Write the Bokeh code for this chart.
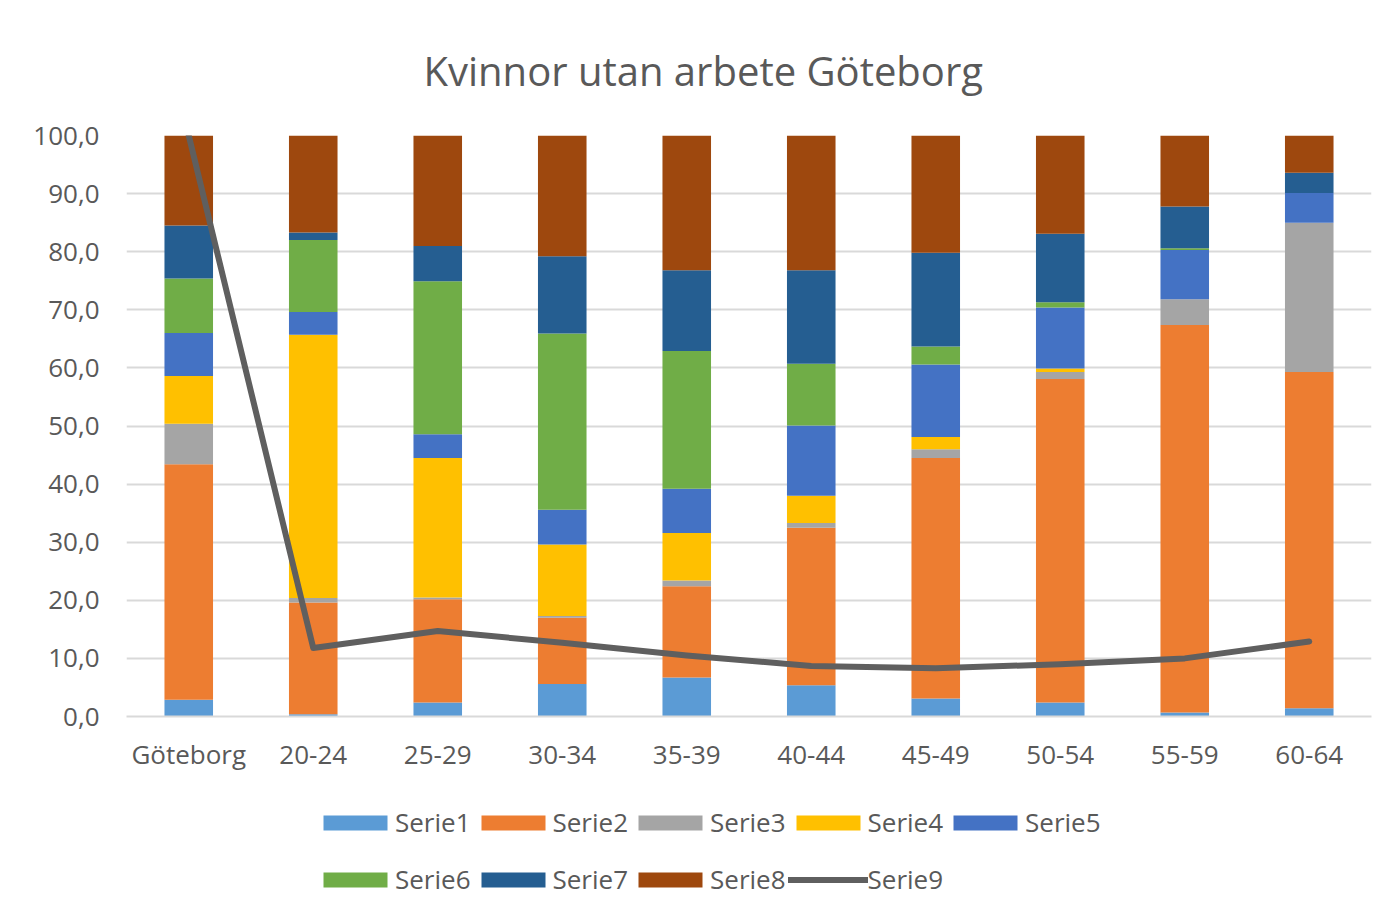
from bokeh.plotting import figure
from bokeh.layouts import column
from bokeh.models import (ColumnDataSource, FactorRange, Legend, LegendItem,
                          CustomJSTickFormatter, FixedTicker, Range1d)
from bokeh.embed import file_html
from bokeh.resources import INLINE

categories = ["Göteborg", "20-24", "25-29", "30-34", "35-39", "40-44", "45-49", "50-54", "55-59", "60-64"]
serie1 = [2.9, 0.4, 2.4, 5.6, 6.7, 5.4, 3.1, 2.4, 0.7, 1.4]
serie2 = [40.5, 19.2, 17.8, 11.4, 15.7, 27.1, 41.4, 55.7, 66.7, 57.9]
serie3 = [7.0, 0.8, 0.3, 0.3, 1.0, 0.8, 1.5, 1.2, 4.4, 25.7]
serie4 = [8.2, 45.3, 24.0, 12.3, 8.2, 4.7, 2.1, 0.6, 0.0, 0.0]
serie5 = [7.4, 3.9, 4.1, 6.0, 7.6, 12.1, 12.5, 10.5, 8.5, 5.1]
serie6 = [9.4, 12.4, 26.3, 30.3, 23.7, 10.6, 3.1, 0.9, 0.3, 0.0]
serie7 = [9.1, 1.3, 6.1, 13.3, 13.9, 16.1, 16.1, 11.8, 7.2, 3.5]
serie8 = [15.5, 16.7, 19.0, 20.8, 23.2, 23.2, 20.2, 16.9, 12.2, 6.4]
serie9 = [100.0, 11.8, 14.7, 12.7, 10.5, 8.7, 8.3, 9.0, 10.0, 12.9]
y_ticks = [0, 10, 20, 30, 40, 50, 60, 70, 80, 90, 100]

names = ["Serie1", "Serie2", "Serie3", "Serie4", "Serie5", "Serie6", "Serie7", "Serie8"]
colors = ["#5B9BD5", "#ED7D31", "#A5A5A5", "#FFC000", "#4472C4", "#70AD47", "#255E91", "#9E480E"]
line_color = "#5F5F5F"
text_color = "#595959"
font = "Open Sans"

source = ColumnDataSource(dict(cat=categories, Serie1=serie1, Serie2=serie2, Serie3=serie3,
                               Serie4=serie4, Serie5=serie5, Serie6=serie6, Serie7=serie7,
                               Serie8=serie8, Serie9=serie9))

p = figure(x_range=FactorRange(*categories), y_range=(0, 100), width=1383, height=774,
           title="Kvinnor utan arbete Göteborg",
           output_backend="svg", toolbar_location=None,
           min_border_left=126, min_border_right=12, min_border_top=135, min_border_bottom=58)
p.outline_line_color = None

p.title.text_font = font
p.title.text_font_size = "40px"
p.title.text_font_style = "normal"
p.title.text_color = text_color
p.title.align = "left"
p.title.offset = 297
p.title.standoff = 76

bars = p.vbar_stack(names, x="cat", width=0.39, color=colors, source=source, line_color=None)
ln = p.line(x="cat", y="Serie9", source=source, line_color=line_color, line_width=6,
            line_join="round", line_cap="round")

p.yaxis.ticker = FixedTicker(ticks=y_ticks)
p.yaxis.formatter = CustomJSTickFormatter(code="return tick.toFixed(1).replace('.', ',');")
p.yaxis.axis_line_color = None
p.yaxis.major_tick_line_color = None
p.yaxis.minor_tick_line_color = None
p.yaxis.major_label_standoff = 21
p.yaxis.major_label_text_font = font
p.yaxis.major_label_text_font_size = "26px"
p.yaxis.major_label_text_color = text_color

p.xaxis.axis_line_color = "#D9D9D9"
p.xaxis.axis_line_width = 2
p.xaxis.major_tick_line_color = None
p.xaxis.minor_tick_line_color = None
p.xaxis.major_label_standoff = 13
p.xaxis.major_label_text_font = font
p.xaxis.major_label_text_font_size = "26px"
p.xaxis.major_label_text_color = text_color

p.xgrid.grid_line_color = None
p.ygrid.grid_line_color = "#D9D9D9"
p.ygrid.grid_line_width = 2

# Legend panel below the chart: same series, drawn outside its visible range,
# so only the legend keys show.
lp = figure(width=1383, height=140, x_range=FactorRange(*categories), y_range=Range1d(1000, 1001),
            output_backend="svg", toolbar_location=None,
            x_axis_location=None, y_axis_location=None,
            min_border_left=0, min_border_right=0, min_border_top=0, min_border_bottom=0)
lp.outline_line_color = None
lp.grid.visible = False
keys = lp.vbar_stack(names, x="cat", width=0.39, color=colors, source=source, line_color=None)
key9 = lp.line(x="cat", y="Serie9", source=source, line_color=line_color, line_width=6,
               line_cap="round")


def make_legend(items, y):
    return Legend(items=items, location=(189, y), orientation="horizontal",
                  glyph_width=80, glyph_height=19, label_standoff=0, spacing=2,
                  padding=0, margin=0, border_line_color=None, background_fill_alpha=0,
                  label_text_font=font, label_text_font_size="26px", label_text_color=text_color)


row1 = [LegendItem(label=names[i], renderers=[keys[i]]) for i in range(5)]
row2 = [LegendItem(label=names[i], renderers=[keys[i]]) for i in range(5, 8)]
row2.append(LegendItem(label="Serie9", renderers=[key9]))
lp.add_layout(make_legend(row1, 74))
lp.add_layout(make_legend(row2, 17))

layout = column(p, lp, spacing=0)
open("out.html", "w").write(file_html(layout, INLINE))
